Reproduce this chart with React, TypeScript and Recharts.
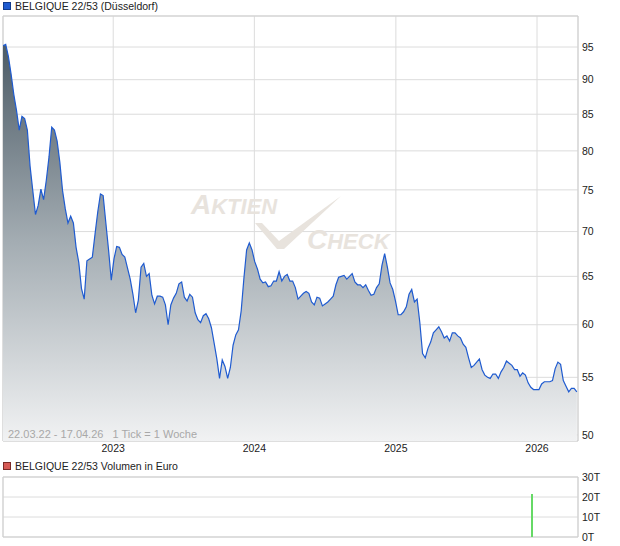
import React from "react";
import {
  ComposedChart, Area, Bar, XAxis, YAxis, CartesianGrid, ReferenceArea,
} from "recharts";

const FONT = '"Liberation Sans", Arial, sans-serif';
const BLUE = "#1f5bd0";
const GRID = "#dcdcdc";
const BORDER = "#cfcfcf";

// weekly closing prices, starting 22.03.22
const START = Date.UTC(2022, 2, 22);
const END = Date.UTC(2026, 3, 17);
const WEEK = 7 * 86400000;

const PRICES = [
  95.2, 95.4, 93.5, 90.8, 87.8, 85.5, 82.8, 84.7, 84.4, 82.8,
  78.0, 74.9, 72.0, 73.1, 75.1, 73.8, 76.2, 79.2, 83.2, 82.8,
  81.3, 78.5, 74.9, 72.7, 71.0, 71.8, 71.0, 68.2, 66.5, 63.7,
  62.6, 66.7, 66.9, 67.1, 69.7, 72.3, 74.5, 74.3, 71.0, 67.9,
  64.6, 66.9, 68.3, 68.2, 67.4, 67.1, 65.9, 64.7, 63.1, 61.2,
  62.5, 66.0, 66.4, 65.0, 65.3, 63.0, 62.1, 62.9, 62.9, 62.8,
  62.0, 60.0, 62.0, 62.7, 63.2, 64.2, 64.4, 62.8, 62.4, 63.1,
  62.8, 61.2, 60.5, 60.2, 60.9, 61.1, 60.6, 59.7, 58.2, 56.7,
  54.9, 56.6, 56.0, 54.9, 55.9, 58.0, 59.0, 59.5, 61.4, 64.8,
  67.9, 68.7, 67.9, 66.6, 65.8, 64.7, 64.3, 64.4, 63.9, 64.0,
  64.5, 64.5, 65.5, 64.5, 65.0, 65.2, 64.5, 64.5, 63.8, 62.6,
  62.9, 63.2, 63.4, 63.2, 62.3, 62.0, 62.8, 62.7, 61.9, 62.1,
  62.3, 62.6, 62.9, 64.1, 64.9, 65.0, 65.1, 64.7, 65.0, 65.3,
  64.4, 64.1, 64.1, 63.8, 64.1, 63.5, 63.0, 63.1, 63.8, 64.2,
  66.2, 67.5, 66.0, 64.3, 63.6, 62.4, 61.0, 61.0, 61.3, 61.8,
  63.1, 63.6, 62.3, 62.6, 60.2, 57.2, 56.8, 57.7, 58.3, 59.2,
  59.5, 59.8, 59.3, 58.7, 58.9, 58.4, 59.2, 59.2, 58.9, 58.7,
  58.1, 57.8, 56.8, 55.9, 56.1, 56.4, 56.7, 55.7, 55.2, 55.0,
  54.9, 55.3, 55.3, 54.9, 55.5, 55.9, 56.5, 56.3, 56.1, 55.7,
  55.7, 55.1, 55.4, 55.2, 54.5, 54.1, 53.9, 53.9, 53.9, 54.4,
  54.6, 54.6, 54.6, 54.7, 55.8, 56.4, 56.2, 54.7, 54.2, 53.7,
  54.0, 54.0, 53.7,
];

const YEARS = [2023, 2024, 2025, 2026];
const PRICE_TICKS = [50, 55, 60, 65, 70, 75, 80, 85, 90, 95];
const PRICE_DOMAIN = [49.5, 100];

const VOLUME_DATES = [Date.UTC(2025, 11, 19)];
const VOLUMES = [21500];
const VOLUME_TICKS = [0, 10000, 20000, 30000];

const yearTicks = YEARS.map((y) => Date.UTC(y, 0, 1));
const priceData = PRICES.map((p, i) => ({ t: Math.min(START + i * WEEK, END), p }));
const volumeData = VOLUME_DATES.map((t, i) => ({ t, v: VOLUMES[i] }));

const tickStyle = { fontSize: 10.5, fill: "#222", fontFamily: FONT };

function Watermark() {
  return (
    <svg
      width={620}
      height={462}
      style={{ position: "absolute", left: 0, top: 0, pointerEvents: "none" }}
    >
      <g fill="#e8e3dd" fontFamily={FONT} fontStyle="italic" fontWeight="bold">
        <text x={191} y={214}>
          <tspan fontSize={28}>A</tspan>
          <tspan fontSize={22}>KTIEN</tspan>
        </text>
        <text x={307} y={249}>
          <tspan fontSize={28}>C</tspan>
          <tspan fontSize={22}>HECK</tspan>
        </text>
        <polygon points="255,223 262,223 279,241 341,196 284,249 277,249" />
      </g>
    </svg>
  );
}

function Key({ color, edge, label, top }: { color: string; edge: string; label: string; top: number }) {
  return (
    <div style={{ position: "absolute", left: 3, top, display: "flex", alignItems: "center", fontSize: 10.5, color: "#222" }}>
      <span style={{ width: 6, height: 6, background: color, border: `1px solid ${edge}`, marginRight: 4 }} />
      {label}
    </div>
  );
}

export default function App() {
  return (
    <div style={{ position: "absolute", left: 0, top: 0, width: 620, height: 546, background: "#fff", fontFamily: FONT }}>
      <Key color={BLUE} edge="#123b8c" label="BELGIQUE 22/53 (Düsseldorf)" top={0} />

      <ComposedChart width={620} height={462} data={priceData} margin={{ top: 16, right: 0, bottom: 0, left: 3 }}>
        <defs>
          <linearGradient id="priceFill" x1="0" y1="0" x2="0" y2="1">
            <stop offset="0%" stopColor="#4c5b66" />
            <stop offset="50%" stopColor="#a4adb3" />
            <stop offset="100%" stopColor="#f1f2f3" />
          </linearGradient>
        </defs>
        <CartesianGrid stroke={GRID} />
        <XAxis
          dataKey="t"
          type="number"
          domain={[START, END]}
          ticks={yearTicks}
          interval={0}
          allowDataOverflow
          tickFormatter={(v) => String(new Date(v).getUTCFullYear())}
          tick={tickStyle}
          tickLine={false}
          axisLine={false}
          tickSize={0}
          tickMargin={4}
          height={21}
        />
        <YAxis
          orientation="right"
          scale="log"
          domain={PRICE_DOMAIN}
          ticks={PRICE_TICKS}
          interval={0}
          allowDataOverflow
          tick={tickStyle}
          tickLine={false}
          axisLine={false}
          tickSize={0}
          tickMargin={4}
          width={42}
        />
        <ReferenceArea x1={START} x2={END} y1={PRICE_DOMAIN[0]} y2={PRICE_DOMAIN[1]} fill="none" stroke={BORDER} />
        <Area
          type="linear"
          dataKey="p"
          stroke={BLUE}
          strokeWidth={1.2}
          fill="url(#priceFill)"
          fillOpacity={1}
          dot={false}
          activeDot={false}
          isAnimationActive={false}
        />
      </ComposedChart>

      <Watermark />

      <div style={{ position: "absolute", left: 8, top: 428, fontSize: 11, color: "#a8a8a8", whiteSpace: "pre" }}>
        {"22.03.22 - 17.04.26   1 Tick = 1 Woche"}
      </div>

      <Key color="#d65a55" edge="#7a2a27" label="BELGIQUE 22/53 Volumen in Euro" top={460} />

      <div style={{ position: "absolute", left: 0, top: 470 }}>
        <ComposedChart width={620} height={76} data={volumeData} margin={{ top: 7, right: 0, bottom: 9, left: 3 }}>
          <CartesianGrid stroke={GRID} />
          <XAxis
            dataKey="t"
            type="number"
            domain={[START, END]}
            ticks={yearTicks}
            interval={0}
            tick={false}
            tickLine={false}
            axisLine={false}
            height={0}
          />
          <YAxis
            orientation="right"
            domain={[0, 30000]}
            ticks={VOLUME_TICKS}
            interval={0}
            tickFormatter={(v) => `${v / 1000}T`}
            tick={tickStyle}
            tickLine={false}
            axisLine={false}
            tickSize={0}
            tickMargin={4}
            width={42}
          />
          <ReferenceArea x1={START} x2={END} y1={0} y2={30000} fill="none" stroke={BORDER} />
          <Bar dataKey="v" fill="#66d966" barSize={2} isAnimationActive={false} />
        </ComposedChart>
      </div>
    </div>
  );
}
